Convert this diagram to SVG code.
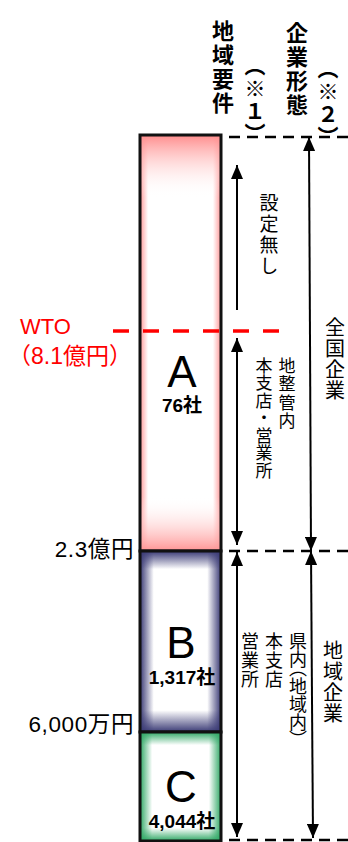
<svg xmlns="http://www.w3.org/2000/svg" width="348" height="842" viewBox="0 0 348 842">
<style>
.v{writing-mode:vertical-rl;font-family:"Noto Sans CJK JP",sans-serif;fill:#000}
.hb{font-weight:bold}
.pp{font-feature-settings:"vpal"}
.big{font-family:"Liberation Sans",Arial,sans-serif;font-size:44px;text-anchor:middle}
.cnt{font-family:"Liberation Sans","Noto Sans CJK JP",sans-serif;font-weight:bold;font-size:19px;text-anchor:middle}
.lbl{font-family:"Liberation Sans","Noto Sans CJK JP",sans-serif;font-size:22.5px;letter-spacing:0.6px;text-anchor:end}
.dash{stroke:#000;stroke-width:2.5;stroke-dasharray:11 7;fill:none}
.arr{stroke:#000;stroke-width:2;fill:none}
.box{stroke:#111;stroke-width:3;fill:none}
</style>
<defs>
<marker id="ah" viewBox="0 0 14 12" refX="14" refY="6" markerWidth="14" markerHeight="12" markerUnits="userSpaceOnUse" orient="auto">
<path d="M0,0 L14,6 L0,12 Z" fill="#000"/>
</marker>
<linearGradient id="aV" x1="0" y1="0" x2="0" y2="1">
<stop offset="0" stop-color="#ff8c8c"/>
<stop offset="0.15" stop-color="#ffffff" stop-opacity="0"/>
<stop offset="0.87" stop-color="#ffffff" stop-opacity="0"/>
<stop offset="1" stop-color="#ff9494"/>
</linearGradient>
<linearGradient id="aH" x1="0" y1="0" x2="1" y2="0">
<stop offset="0" stop-color="#ff9898"/>
<stop offset="0.1" stop-color="#ff9898" stop-opacity="0"/>
<stop offset="0.9" stop-color="#ff9898" stop-opacity="0"/>
<stop offset="1" stop-color="#ff9898"/>
</linearGradient>
<linearGradient id="bV" x1="0" y1="0" x2="0" y2="1">
<stop offset="0" stop-color="#3a3a75"/>
<stop offset="0.1" stop-color="#3a3a75" stop-opacity="0"/>
<stop offset="0.88" stop-color="#3a3a75" stop-opacity="0"/>
<stop offset="1" stop-color="#3a3a75"/>
</linearGradient>
<linearGradient id="bH" x1="0" y1="0" x2="1" y2="0">
<stop offset="0" stop-color="#3a3a75"/>
<stop offset="0.17" stop-color="#3a3a75" stop-opacity="0"/>
<stop offset="0.83" stop-color="#3a3a75" stop-opacity="0"/>
<stop offset="1" stop-color="#3a3a75"/>
</linearGradient>
<linearGradient id="cV" x1="0" y1="0" x2="0" y2="1">
<stop offset="0" stop-color="#2fa865"/>
<stop offset="0.12" stop-color="#2fa865" stop-opacity="0"/>
<stop offset="0.88" stop-color="#2fa865" stop-opacity="0"/>
<stop offset="1" stop-color="#2fa865"/>
</linearGradient>
<linearGradient id="cH" x1="0" y1="0" x2="1" y2="0">
<stop offset="0" stop-color="#2fa865"/>
<stop offset="0.15" stop-color="#2fa865" stop-opacity="0"/>
<stop offset="0.85" stop-color="#2fa865" stop-opacity="0"/>
<stop offset="1" stop-color="#2fa865"/>
</linearGradient>
</defs>
<rect width="348" height="842" fill="#fff"/>

<g id="box-a">
<rect x="140" y="135" width="81" height="416" fill="#fff"/>
<rect x="140" y="135" width="81" height="416" fill="url(#aH)"/>
<rect x="140" y="135" width="81" height="416" fill="url(#aV)"/>
<rect class="box" x="140" y="135" width="81" height="416"/>
<text class="big" x="182" y="387">A</text>
<text class="cnt" x="182" y="412">76社</text>
</g>

<g id="box-b">
<rect x="140" y="551" width="81" height="181" fill="#fff"/>
<rect x="140" y="551" width="81" height="181" fill="url(#bH)"/>
<rect x="140" y="551" width="81" height="181" fill="url(#bV)"/>
<rect class="box" x="140" y="551" width="81" height="181"/>
<text class="big" x="181" y="658">B</text>
<text class="cnt" x="182" y="684">1,317社</text>
</g>

<g id="box-c">
<rect x="140" y="732" width="81" height="109" fill="#fff"/>
<rect x="140" y="732" width="81" height="109" fill="url(#cH)"/>
<rect x="140" y="732" width="81" height="109" fill="url(#cV)"/>
<rect class="box" x="140" y="732" width="81" height="109"/>
<text class="big" x="181" y="802">C</text>
<text class="cnt" x="182" y="828">4,044社</text>
</g>

<g id="connectors">
<line class="dash" x1="229" y1="137" x2="348" y2="137"/>
<line class="dash" x1="229" y1="551" x2="348" y2="551"/>
<line class="dash" x1="229" y1="840" x2="348" y2="840"/>
<line x1="113" y1="331" x2="280" y2="331" stroke="#ff0000" stroke-width="3.5" stroke-dasharray="16 14"/>
<line class="arr" x1="237" y1="310" x2="237" y2="165" marker-end="url(#ah)"/>
<line class="arr" x1="237" y1="440" x2="237" y2="338" marker-end="url(#ah)"/>
<line class="arr" x1="237" y1="440" x2="237" y2="545" marker-end="url(#ah)"/>
<line class="arr" x1="237" y1="700" x2="237" y2="552" marker-end="url(#ah)"/>
<line class="arr" x1="237" y1="700" x2="237" y2="837" marker-end="url(#ah)"/>
<line class="arr" x1="310" y1="340" x2="309" y2="137" marker-end="url(#ah)"/>
<line class="arr" x1="310" y1="340" x2="311" y2="551" marker-end="url(#ah)"/>
<line class="arr" x1="312" y1="700" x2="311" y2="551" marker-end="url(#ah)"/>
<line class="arr" x1="312" y1="700" x2="313" y2="838" marker-end="url(#ah)"/>
</g>

<g id="header">
<text class="v hb" x="223" y="20" font-size="22" letter-spacing="2">地域要件</text>
<text class="v hb pp" x="255" y="64" font-size="21" letter-spacing="3">（※１）</text>
<text class="v hb" x="297" y="22" font-size="22" letter-spacing="2">企業形態</text>
<text class="v hb pp" x="328" y="67" font-size="21" letter-spacing="3">（※２）</text>
</g>

<g id="labels">
<text x="20" y="334" font-family="Liberation Sans,Arial,sans-serif" font-size="22" fill="#ff0000">WTO</text>
<text x="8" y="364" font-family="Liberation Sans,Noto Sans CJK JP,sans-serif" font-size="23" fill="#ff0000">（8.1億円）</text>
<text class="lbl" x="134" y="557">2.3億円</text>
<text class="lbl" x="134" y="732">6,000万円</text>
<text class="v" x="269" y="193" font-size="19" letter-spacing="2">設定無し</text>
<text class="v" x="287" y="357" font-size="17" letter-spacing="1.5">地整管内</text>
<text class="v" x="264" y="357" font-size="17" letter-spacing="0.5">本支店・営業所</text>
<text class="v" x="335" y="317" font-size="20" letter-spacing="1">全国企業</text>
<text class="v" x="250" y="632" font-size="18" letter-spacing="1">営業所</text>
<text class="v" x="274" y="632" font-size="18" letter-spacing="1">本支店</text>
<text class="v pp" x="298" y="632" font-size="18">県内（地域内）</text>
<text class="v" x="333" y="640" font-size="20" letter-spacing="1">地域企業</text>
</g>
</svg>
